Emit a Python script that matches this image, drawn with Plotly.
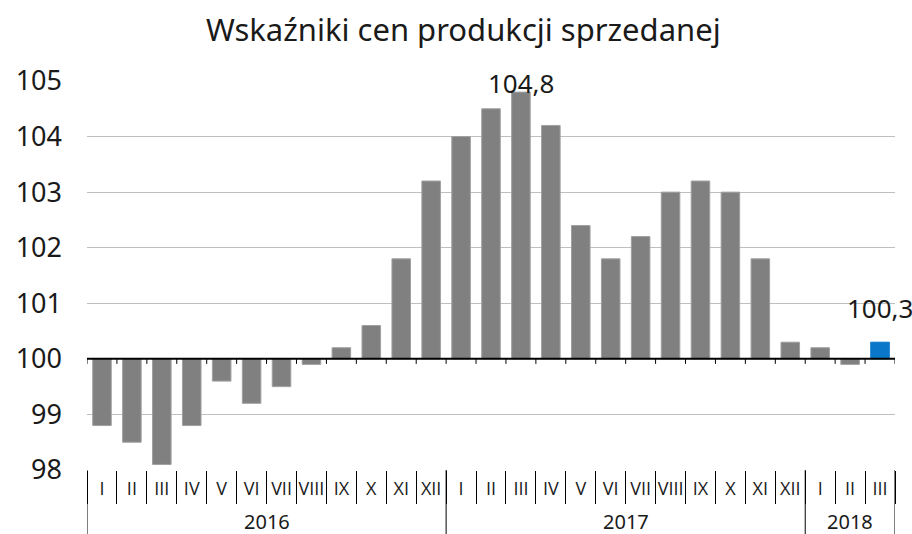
import plotly.graph_objects as go

months = ["I", "II", "III", "IV", "V", "VI", "VII", "VIII", "IX", "X", "XI", "XII",
          "I", "II", "III", "IV", "V", "VI", "VII", "VIII", "IX", "X", "XI", "XII",
          "I", "II", "III"]
years = ["2016", "2017", "2018"]
year_counts = [12, 12, 3]
values = [98.8, 98.5, 98.1, 98.8, 99.6, 99.2, 99.5, 99.9, 100.2, 100.6, 101.8, 103.2,
          104.0, 104.5, 104.8, 104.2, 102.4, 101.8, 102.2, 103.0, 103.2, 103.0, 101.8, 100.3,
          100.2, 99.9, 100.3]
labelled = {14: "104,8", 26: "100,3"}
base_level = 100

FONT = "Noto Sans"
MFONT = "Open Sans"
x = list(range(len(values)))
colors = ["#808080"] * (len(values) - 1) + ["#0A77C9"]
line_colors = ["#A0A0A0"] * (len(values) - 1) + ["#0A77C9"]

fig = go.Figure()
fig.add_trace(go.Bar(
    x=x, y=[v - base_level for v in values], base=base_level,
    marker=dict(color=colors, line=dict(color=line_colors, width=1)),
    width=0.62, hoverinfo="skip", showlegend=False,
))

shapes = []
shapes.append(dict(type="line", xref="x", yref="y", x0=-0.5, x1=len(values) - 0.5,
                   y0=base_level, y1=base_level, line=dict(color="black", width=2), layer="above"))
for k in range(len(values) + 1):
    shapes.append(dict(type="line", xref="x", yref="y", x0=k - 0.5, x1=k - 0.5,
                       y0=base_level, y1=base_level - 0.09, line=dict(color="black", width=1)))
pos = -0.5
bounds = [pos]
for c in year_counts:
    pos += c
    bounds.append(pos)
for b in bounds:
    shapes.append(dict(type="line", xref="x", yref="paper", x0=b, x1=b,
                       y0=0, y1=-0.17, line=dict(color="black", width=1)))

annotations = []
start = -0.5
for yr, c in zip(years, year_counts):
    annotations.append(dict(x=start + c / 2, y=0, xref="x", yref="paper", text=yr,
                            showarrow=False, yanchor="top", yshift=-36,
                            font=dict(family=FONT, size=20, color="#1a1a1a")))
    start += c
for i, txt in labelled.items():
    annotations.append(dict(x=i, y=values[i], xref="x", yref="y", text=txt,
                            showarrow=False, yanchor="bottom",
                            yshift=-11 if i == 14 else 14,
                            font=dict(family=FONT, size=26, color="#1a1a1a")))

fig.update_layout(
    width=912, height=534,
    margin=dict(l=87, r=17, t=81, b=64),
    paper_bgcolor="white", plot_bgcolor="white",
    title=dict(text="Wskaźniki cen produkcji sprzedanej", x=0.508, xanchor="center",
               y=0.944, yanchor="middle", yref="container",
               font=dict(family=FONT, size=31, color="#1a1a1a")),
    xaxis=dict(range=[-0.5, len(values) - 0.5], tickvals=x, ticktext=months,
               showgrid=False, zeroline=False, showline=False, ticks="",
               ticklabelstandoff=6,
               tickfont=dict(family=MFONT, size=18, color="#1a1a1a"),
               minor=dict(tick0=-0.5, dtick=1, ticks="outside", ticklen=33,
                          tickcolor="black", tickwidth=1, showgrid=False)),
    yaxis=dict(range=[98, 105], dtick=1, showgrid=True, gridcolor="#BFBFBF", gridwidth=1,
               zeroline=False, showline=False, ticks="", ticklabelstandoff=24,
               tickfont=dict(family=FONT, size=27, color="#1a1a1a")),
    shapes=shapes, annotations=annotations, bargap=0.38,
)

fig.write_html("out.html", config={"displayModeBar": False},
               post_script="document.body.style.margin='0';document.body.style.overflow='hidden';")
